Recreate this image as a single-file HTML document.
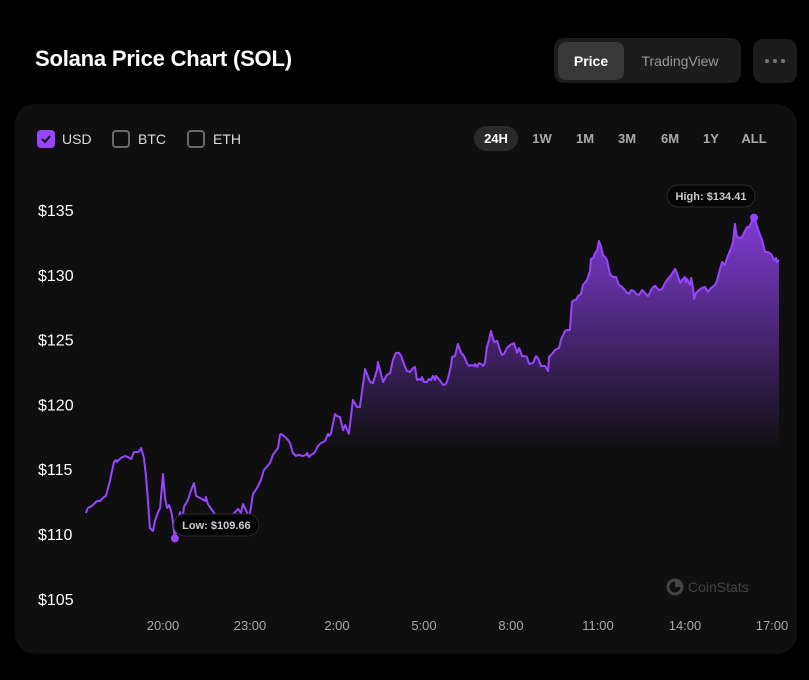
<!DOCTYPE html>
<html><head><meta charset="utf-8"><style>
*{margin:0;padding:0;box-sizing:border-box}
body{width:809px;height:680px;background:#000;font-family:"Liberation Sans",sans-serif;position:relative;overflow:hidden;color:#fff}
.abs{position:absolute}
.title{left:35px;top:46px;font-size:22px;font-weight:bold;letter-spacing:-0.2px}
.toggle{left:554px;top:38px;width:187px;height:45px;background:#1c1c1c;border-radius:10px}
.tbtn{position:absolute;top:4px;height:38px;line-height:38px;font-size:14px;text-align:center;border-radius:8px}
.more{left:753px;top:39px;width:44px;height:44px;background:#1c1c1c;border-radius:10px}
.dot{position:absolute;top:20px;width:4px;height:4px;border-radius:2px;background:#777}
.card{left:15px;top:104px;width:782px;height:550px;background:#0f0f0f;border-radius:20px}
.cb{position:absolute;top:130px;width:18px;height:18px;border-radius:4px;border:2px solid #6a6a6a}
.cbl{position:absolute;top:131px;font-size:14px;color:#ddd}
.rng{position:absolute;top:126px;height:25px;line-height:25px;font-size:13px;font-weight:bold;color:#aaa;text-align:center}
</style></head><body>
<div class="abs title">Solana Price Chart (SOL)</div>
<div class="abs toggle">
  <div class="tbtn" style="left:4px;width:66px;background:#383838;font-weight:bold;color:#fff">Price</div>
  <div class="tbtn" style="left:76px;width:100px;color:#999">TradingView</div>
</div>
<div class="abs more"><div class="dot" style="left:12px"></div><div class="dot" style="left:20px"></div><div class="dot" style="left:28px"></div></div>
<div class="abs card"></div>

<div class="cb" style="left:37px;background:#9945ff;border-color:#9945ff"><svg width="14" height="14" viewBox="0 0 14 14" style="position:absolute;left:0;top:0"><path d="M3 7 L6 10 L11 4" stroke="#111" stroke-width="2" fill="none"/></svg></div>
<div class="cbl" style="left:62px">USD</div>
<div class="cb" style="left:112px"></div>
<div class="cbl" style="left:138px">BTC</div>
<div class="cb" style="left:187px"></div>
<div class="cbl" style="left:213px">ETH</div>

<div class="rng" style="left:474px;width:44px;background:#2a2a2a;border-radius:13px;color:#fff">24H</div>
<div class="rng" style="left:528px;width:28px">1W</div>
<div class="rng" style="left:571px;width:28px">1M</div>
<div class="rng" style="left:613px;width:28px">3M</div>
<div class="rng" style="left:656px;width:28px">6M</div>
<div class="rng" style="left:697px;width:28px">1Y</div>
<div class="rng" style="left:738px;width:32px">ALL</div>

<svg id="chart" class="abs" style="left:0;top:0" width="809" height="680">
<defs><linearGradient id="fillg" gradientUnits="userSpaceOnUse" x1="0" y1="210" x2="0" y2="450">
<stop offset="0" stop-color="#9945ff" stop-opacity="0.85"/><stop offset="1" stop-color="#9945ff" stop-opacity="0"/></linearGradient></defs>
<g id="wm">
<circle cx="675" cy="587" r="7" fill="none" stroke="#444" stroke-width="3"/><path d="M675 580 A7 7 0 0 1 682 587 L675 587Z" fill="#444"/>
<text x="688" y="592" fill="#444" font-size="14" font-family="Liberation Sans, sans-serif">CoinStats</text></g>
</svg>
<script>
const yTicks=[105,110,115,120,125,130,135];
const xTickHours=[0,3,6,9,12,15,18,21];
const xTickLabels=["20:00","23:00","2:00","5:00","8:00","11:00","14:00","17:00"];
const hours=[-2.66,-2.59,-2.45,-2.28,-2.17,-2.03,-1.97,-1.83,-1.69,-1.62,-1.59,-1.45,-1.31,-1.21,-1.10,-1.00,-0.86,-0.79,-0.76,-0.66,-0.59,-0.52,-0.45,-0.34,-0.28,-0.17,-0.10,0,0.07,0.14,0.21,0.31,0.41,0.52,0.59,0.66,0.72,0.86,0.97,1.07,1.14,1.28,1.45,1.48,1.55,1.69,1.79,1.97,2.31,2.59,2.69,2.76,2.86,2.97,3.03,3.10,3.24,3.38,3.48,3.69,3.79,3.97,4.03,4.07,4.21,4.31,4.38,4.48,4.59,4.66,4.83,4.93,4.97,5.03,5.10,5.17,5.24,5.34,5.45,5.52,5.59,5.69,5.72,5.79,5.93,6.00,6.10,6.21,6.28,6.41,6.55,6.69,6.79,6.97,7.14,7.24,7.38,7.41,7.59,7.72,7.83,7.93,8.03,8.14,8.21,8.31,8.41,8.52,8.62,8.69,8.76,8.83,8.90,8.93,9.00,9.10,9.17,9.24,9.31,9.38,9.41,9.48,9.59,9.66,9.76,9.83,9.93,9.97,10.07,10.17,10.28,10.38,10.48,10.55,10.66,10.72,10.76,10.83,10.90,10.97,11.03,11.10,11.17,11.24,11.31,11.41,11.52,11.62,11.69,11.76,11.86,11.97,12.10,12.21,12.28,12.38,12.48,12.55,12.62,12.76,12.86,12.93,13.03,13.17,13.28,13.31,13.41,13.52,13.66,13.72,13.86,13.93,14.03,14.10,14.17,14.24,14.31,14.41,14.48,14.62,14.72,14.76,14.83,14.90,14.97,15.03,15.10,15.17,15.24,15.31,15.41,15.52,15.62,15.72,15.83,15.90,15.97,16.07,16.14,16.24,16.31,16.41,16.52,16.62,16.72,16.79,16.83,16.90,16.97,17.10,17.21,17.31,17.38,17.52,17.59,17.66,17.69,17.76,17.83,17.90,18.00,18.03,18.07,18.17,18.21,18.28,18.31,18.38,18.52,18.59,18.69,18.79,18.90,19.03,19.10,19.21,19.28,19.38,19.45,19.59,19.66,19.72,19.79,19.93,20.00,20.07,20.14,20.21,20.28,20.34,20.38,20.48,20.59,20.66,20.76,20.86,20.97,21.07,21.14,21.17,21.24];
const prices=[111.62,112.01,112.16,112.55,112.55,112.86,112.93,114.09,115.56,115.71,115.56,115.87,116.02,115.94,115.79,116.33,116.33,116.48,116.64,115.87,114.55,112.62,110.46,110.23,111.00,111.69,112.01,114.63,112.78,112.01,112.24,111.47,109.66,111.08,111.69,110.85,112.08,112.62,113.39,113.93,112.93,112.78,112.55,112.86,112.31,111.85,111.54,111.40,111.30,111.93,111.62,112.31,111.85,111.31,112.01,113.08,113.55,114.17,114.94,115.48,116.10,116.64,117.64,117.72,117.48,117.25,117.02,116.25,116.02,116.10,116.02,116.10,116.25,115.94,116.10,116.17,116.33,116.79,117.02,117.10,117.18,117.72,117.56,117.72,119.26,119.10,119.03,118.02,118.41,117.72,120.34,119.80,119.80,122.73,121.73,121.65,122.65,123.27,121.73,122.27,122.42,123.43,123.97,123.97,123.73,123.12,122.58,122.50,122.81,122.89,121.88,121.96,121.88,122.11,121.73,121.73,121.96,121.88,122.19,121.88,122.19,122.04,121.73,121.50,121.57,122.04,122.96,123.66,123.73,124.66,123.97,123.73,123.19,122.96,123.04,122.96,123.12,122.89,123.19,123.12,122.96,123.19,124.43,124.97,125.66,124.81,124.89,124.20,123.81,123.89,124.35,124.58,124.73,123.97,124.35,123.73,123.73,123.66,123.12,123.19,123.73,123.58,122.96,122.96,122.58,123.66,123.89,124.20,124.35,124.97,125.66,125.74,125.74,127.90,128.05,128.05,128.36,128.52,129.21,129.60,130.29,131.22,131.30,131.68,131.91,132.61,132.22,131.53,131.37,131.14,130.06,129.83,129.83,129.21,129.06,128.90,128.67,128.52,128.83,128.75,128.52,128.44,128.83,128.60,128.36,128.60,128.83,129.06,129.14,128.83,128.90,129.37,129.60,129.98,130.22,130.45,130.29,129.91,129.37,129.60,129.83,129.45,129.68,129.21,129.75,128.98,128.13,128.60,128.90,128.98,129.06,128.67,128.98,129.21,129.52,130.45,130.99,130.76,131.30,132.07,132.53,133.92,132.92,132.84,133.07,133.38,133.69,133.69,133.99,134.30,134.41,133.76,133.07,132.68,131.76,131.76,131.60,131.14,131.30,130.99,131.14];
const NS="http://www.w3.org/2000/svg";
const svg=document.getElementById('chart');
const xS=h=>163+29*h;
const yS=v=>210+(135-v)*12.96;
function mk(t,a){const e=document.createElementNS(NS,t);for(const k in a)e.setAttribute(k,a[k]);return e;}
yTicks.forEach(v=>{const t=mk('text',{x:38,y:yS(v)+6,fill:'#fff','font-size':16,'font-family':'Liberation Sans, sans-serif'});t.textContent='$'+v;


svg.appendChild(t);});
xTickHours.forEach((h,i)=>{const t=mk('text',{x:xS(h),y:630,fill:'#aaa','font-size':13,'text-anchor':'middle','font-family':'Liberation Sans, sans-serif'});t.textContent=xTickLabels[i];


svg.appendChild(t);});
let d='';hours.forEach((h,i)=>{d+=(i?'L':'M')+xS(h).toFixed(1)+' '+yS(prices[i]).toFixed(1)+' ';});
const last=hours.length-1;
const area=mk('path',{d:d+'L'+xS(hours[last]).toFixed(1)+' 600 L'+xS(hours[0]).toFixed(1)+' 600 Z',fill:'url(#fillg)'});


svg.appendChild(area);
const line=mk('path',{d:d,fill:'none',stroke:'#9945ff','stroke-width':2,'stroke-linejoin':'round'});


svg.appendChild(line);
let lo=0,hi=0;prices.forEach((p,i)=>{if(p<prices[lo])lo=i;if(p>prices[hi])hi=i;});
function marker(i,name,label,lx,ly,w){
 const c=mk('circle',{cx:xS(hours[i]),cy:yS(prices[i]),r:4,fill:'#9945ff'});
 
 
 svg.appendChild(c);
 const r=mk('rect',{x:lx,y:ly,width:w,height:22,rx:11,fill:'#050505',stroke:'#2a2a2a'});
 
 
 svg.appendChild(r);
 const t=mk('text',{x:lx+w/2,y:ly+15,fill:'#ccc','font-size':11,'font-weight':'bold','text-anchor':'middle','font-family':'Liberation Sans, sans-serif'});
 t.textContent=label+'$'+prices[i].toFixed(2);
 
 
 svg.appendChild(t);
}
marker(lo,'low','Low: ',xS(hours[lo])-1,514,85);
marker(hi,'high','High: ',xS(hours[hi])-87,185,88);
</script>
</body></html>
